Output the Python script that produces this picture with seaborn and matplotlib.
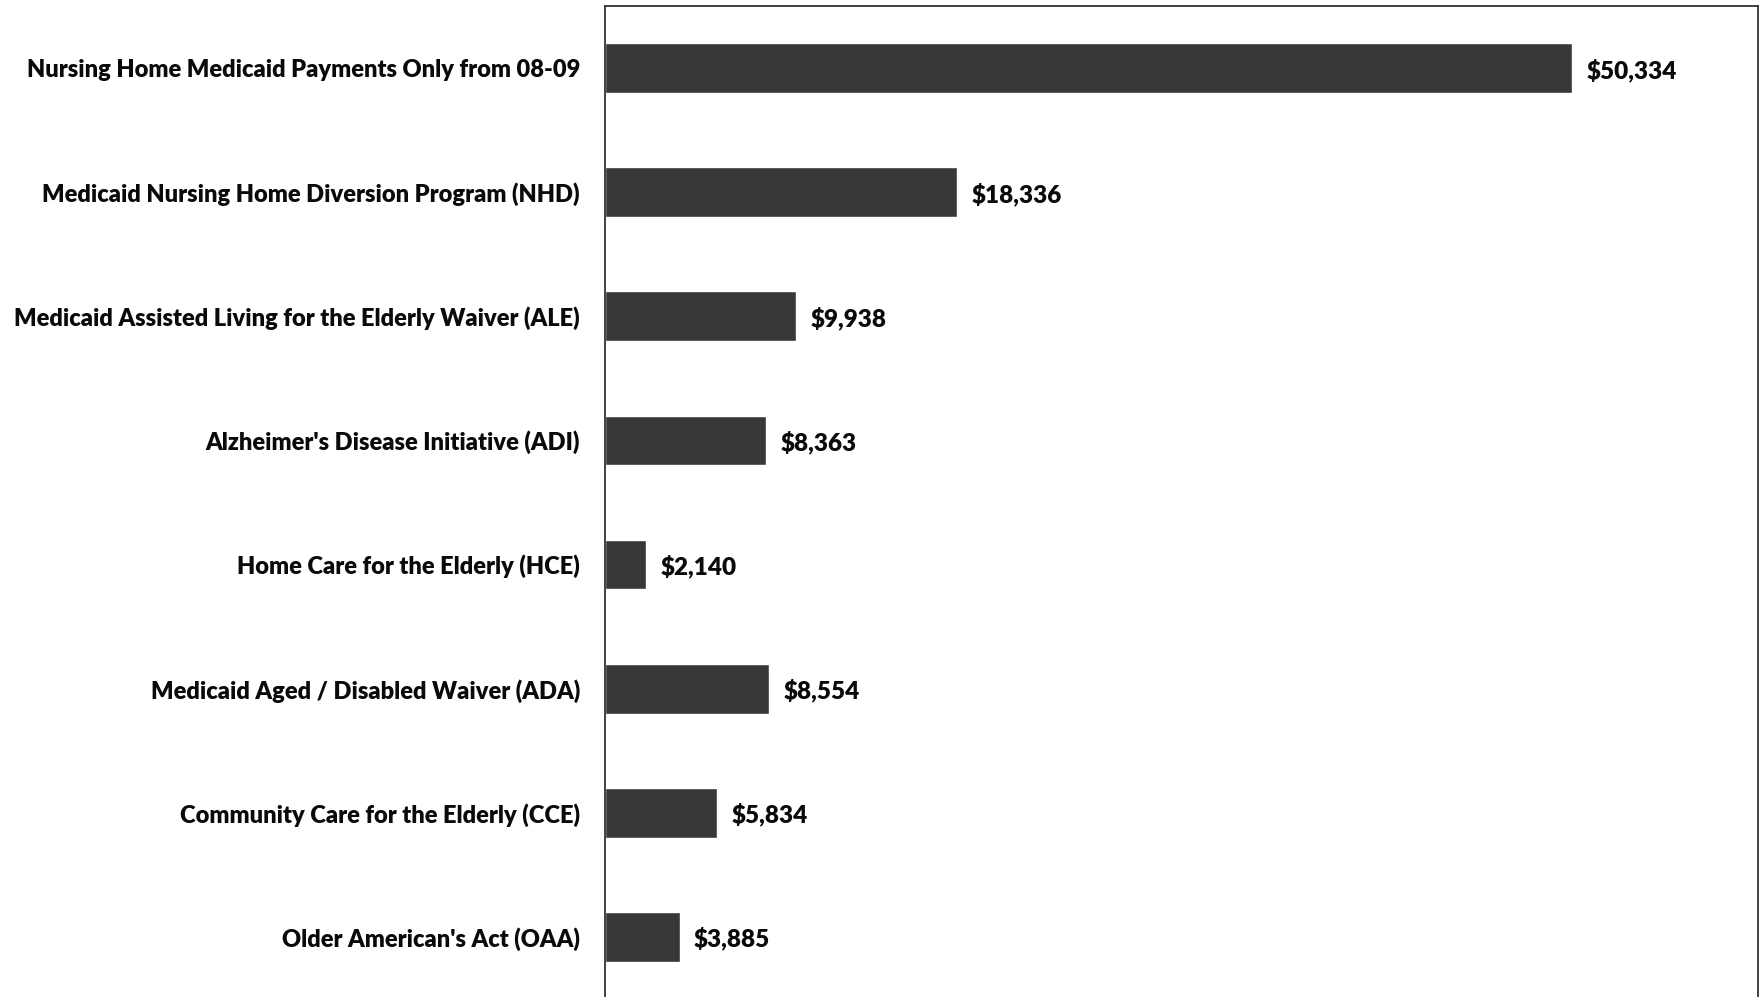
import matplotlib
matplotlib.use("Agg")
import matplotlib.pyplot as plt
import seaborn as sns
import pandas as pd

categories = [
    "Nursing Home Medicaid Payments Only from 08-09",
    "Medicaid Nursing Home Diversion Program (NHD)",
    "Medicaid Assisted Living for the Elderly Waiver (ALE)",
    "Alzheimer's Disease Initiative (ADI)",
    "Home Care for the Elderly (HCE)",
    "Medicaid Aged / Disabled Waiver (ADA)",
    "Community Care for the Elderly (CCE)",
    "Older American's Act (OAA)",
]
values = [50334, 18336, 9938, 8363, 2140, 8554, 5834, 3885]
value_labels = ["$50,334", "$18,336", "$9,938", "$8,363", "$2,140", "$8,554", "$5,834", "$3,885"]

sns.set_theme(style="white")
plt.rcParams['font.family'] = ['Lato', 'DejaVu Sans']

df = pd.DataFrame({"program": categories, "cost": values})

fig = plt.figure(figsize=(17.64, 9.97), dpi=100)
ax = fig.add_axes([605/1764, -2/997, (1758-605)/1764, (997-6+2)/997])

sns.barplot(data=df, x="cost", y="program", orient="h", color="#383838",
            saturation=1, width=0.4, ax=ax)

ax.set_xlim(0, 60000)
ax.set_ylim(7.5, -0.5)
ax.set_xlabel("")
ax.set_ylabel("")
ax.set_xticks([])
ax.tick_params(axis="y", length=0, pad=18)
for lab in ax.get_yticklabels():
    lab.set_fontsize(17)
    lab.set_fontweight("heavy")
    lab.set_color("#0a0a0a")

for i, (v, t) in enumerate(zip(values, value_labels)):
    ax.text(v + 750, i, t, va="center_baseline", ha="left", fontsize=17.5,
            fontweight="heavy", color="#0a0a0a")

for side in ["left", "top", "right"]:
    ax.spines[side].set_visible(True)
    ax.spines[side].set_color("#333333")
    ax.spines[side].set_linewidth(1.3)
ax.spines["bottom"].set_visible(False)

fig.savefig("out.png", dpi=100)
